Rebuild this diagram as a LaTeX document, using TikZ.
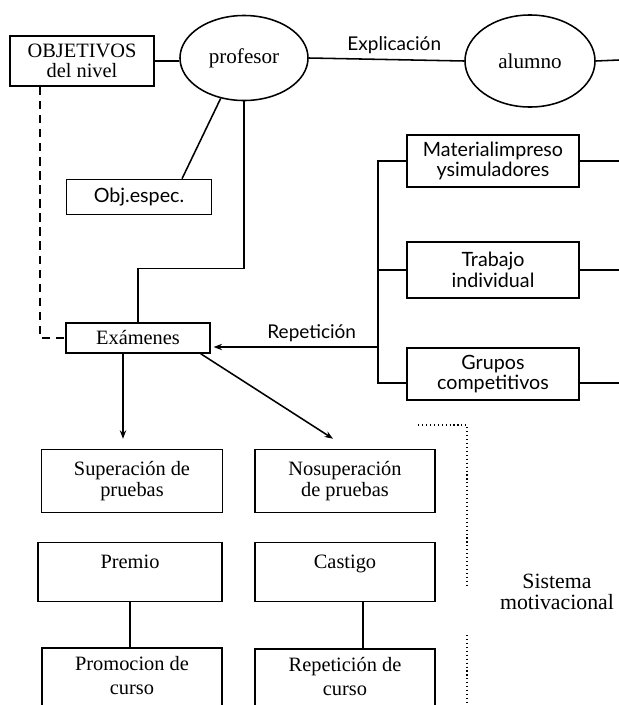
\documentclass[tikz,border=0pt]{standalone}
\usepackage{fontspec}
\setmainfont{Liberation Serif}
\newfontfamily\sansf{Lato}
\usetikzlibrary{shapes.geometric,calc,arrows.meta}

\begin{document}
\begin{tikzpicture}[x=0.025cm,y=-0.025cm,line width=1.1pt,
  caja/.style={draw,rectangle,align=center,inner sep=2pt,font=\fontsize{14.5}{14.5}\selectfont},
  cajas/.style={caja,font=\sansf\fontsize{14}{14.5}\selectfont},
  elipse/.style={draw,ellipse,inner sep=0pt,font=\fontsize{15}{16}\selectfont},
  rotulo/.style={font=\sansf\fontsize{13.5}{15}\selectfont},
  flecha/.style={-{Stealth[length=6pt,width=4.5pt]}}]
	\useasboundingbox (0,0) rectangle (619,705);
	\clip (0,0) rectangle (619,705);
	% arriba
	\node[caja,minimum width=3.6cm,minimum height=1.25cm] (obj) at (82,61) {OBJETIVOS\\del nivel};
	\node[elipse,minimum width=3.2cm,minimum height=2.125cm] (prof) at (244,58) {profesor};
	\node[elipse,minimum width=3.25cm,minimum height=2.3cm] (alum) at (530,61) {alumno};
	\node[cajas,minimum width=3.625cm,minimum height=0.875cm] (espec) at (139,197) {Obj.espec.};
	\node[caja,minimum width=3.6cm,minimum height=0.75cm] (exam) at (138,338) {Exámenes};
	\coordinate (fin) at (619,60);
	% medios
	\node[cajas,minimum width=4.3cm,minimum height=1.3cm] (mat) at (493,161) {Materialimpreso\\ysimuladores};
	\node[cajas,minimum width=4.3cm,minimum height=1.4cm] (trab) at (493,270) {Trabajo\\individual};
	\node[cajas,minimum width=4.3cm,minimum height=1.3cm] (grup) at (493,374) {Grupos\\competitivos};
	\coordinate (rep) at (379,347);
	% abajo
	\node[caja,minimum width=4.525cm,minimum height=1.575cm] (sup) at (132,481) {Superación de\\pruebas};
	\node[caja,minimum width=4.5cm,minimum height=1.575cm] (nosup) at (345,481) {Nosuperación\\de pruebas};
	\node[caja,minimum width=4.6cm,minimum height=1.475cm] (prem) at (130,572) {Premio\\\mbox{}};
	\node[caja,minimum width=4.5cm,minimum height=1.475cm] (cast) at (345,572) {Castigo\\\mbox{}};
	\node[caja,font=\fontsize{14.5}{17.5}\selectfont,anchor=north,minimum width=4.5cm,minimum height=2cm] (prom) at (132,647) {Promocion de\\curso\\\mbox{}};
	\node[caja,font=\fontsize{14.5}{17.5}\selectfont,anchor=north,minimum width=4.5cm,minimum height=2cm] (rcur) at (345,648) {Repetición de\\curso\\\mbox{}};
	\node[align=center,font=\fontsize{15.5}{14.5}\selectfont] (sis) at (557,592) {Sistema\\motivacional};

	\draw (obj.east) -- (obj.east -| prof.west);
	\draw (prof.east) -- node[rotulo,above,pos=0.55]{Explicación} (alum.west);
	\draw (alum.east) -- (fin);
	\draw ([xshift=1.075cm]espec.north) -- (prof.240);
	\draw (prof.south) -- ++(0,167) -| (exam.north);
	\draw[dash pattern=on 6pt off 4pt] ($(obj.south)+(-42,0)$) |- (exam.west);
	\draw (mat.west) -- ++(-28,0) |- ($(grup.west)+(0,9)$);
	\draw (trab.west) -- ++(-28,0);
	\draw[flecha,shorten >=2pt] (rep) -- node[rotulo,above,pos=0.4]{Repetición} (exam.east |- rep);
	\draw (mat.east) -- ++(40,0);
	\draw (trab.east) -- ++(40,0);
	\draw ($(grup.east)+(0,9)$) -- ++(40,0);
	\draw[flecha] ($(exam.south)+(-15,0)$) -- ++(0,85);
	\draw[flecha] ($(exam.south east)+(-10,0)$) -- ($(nosup.north)+(-12,-10)$);
	\draw (prem.south) -- (prem.south |- prom.north);
	\draw ($(cast.south)+(18,0)$) -- ++(0,46);
	\draw[dotted,line width=0.8pt] (418,425) -- (467,425) -- (467,585);
	\draw[dotted,line width=0.8pt] (467,635) -- (467,705);
\end{tikzpicture}
\end{document}
